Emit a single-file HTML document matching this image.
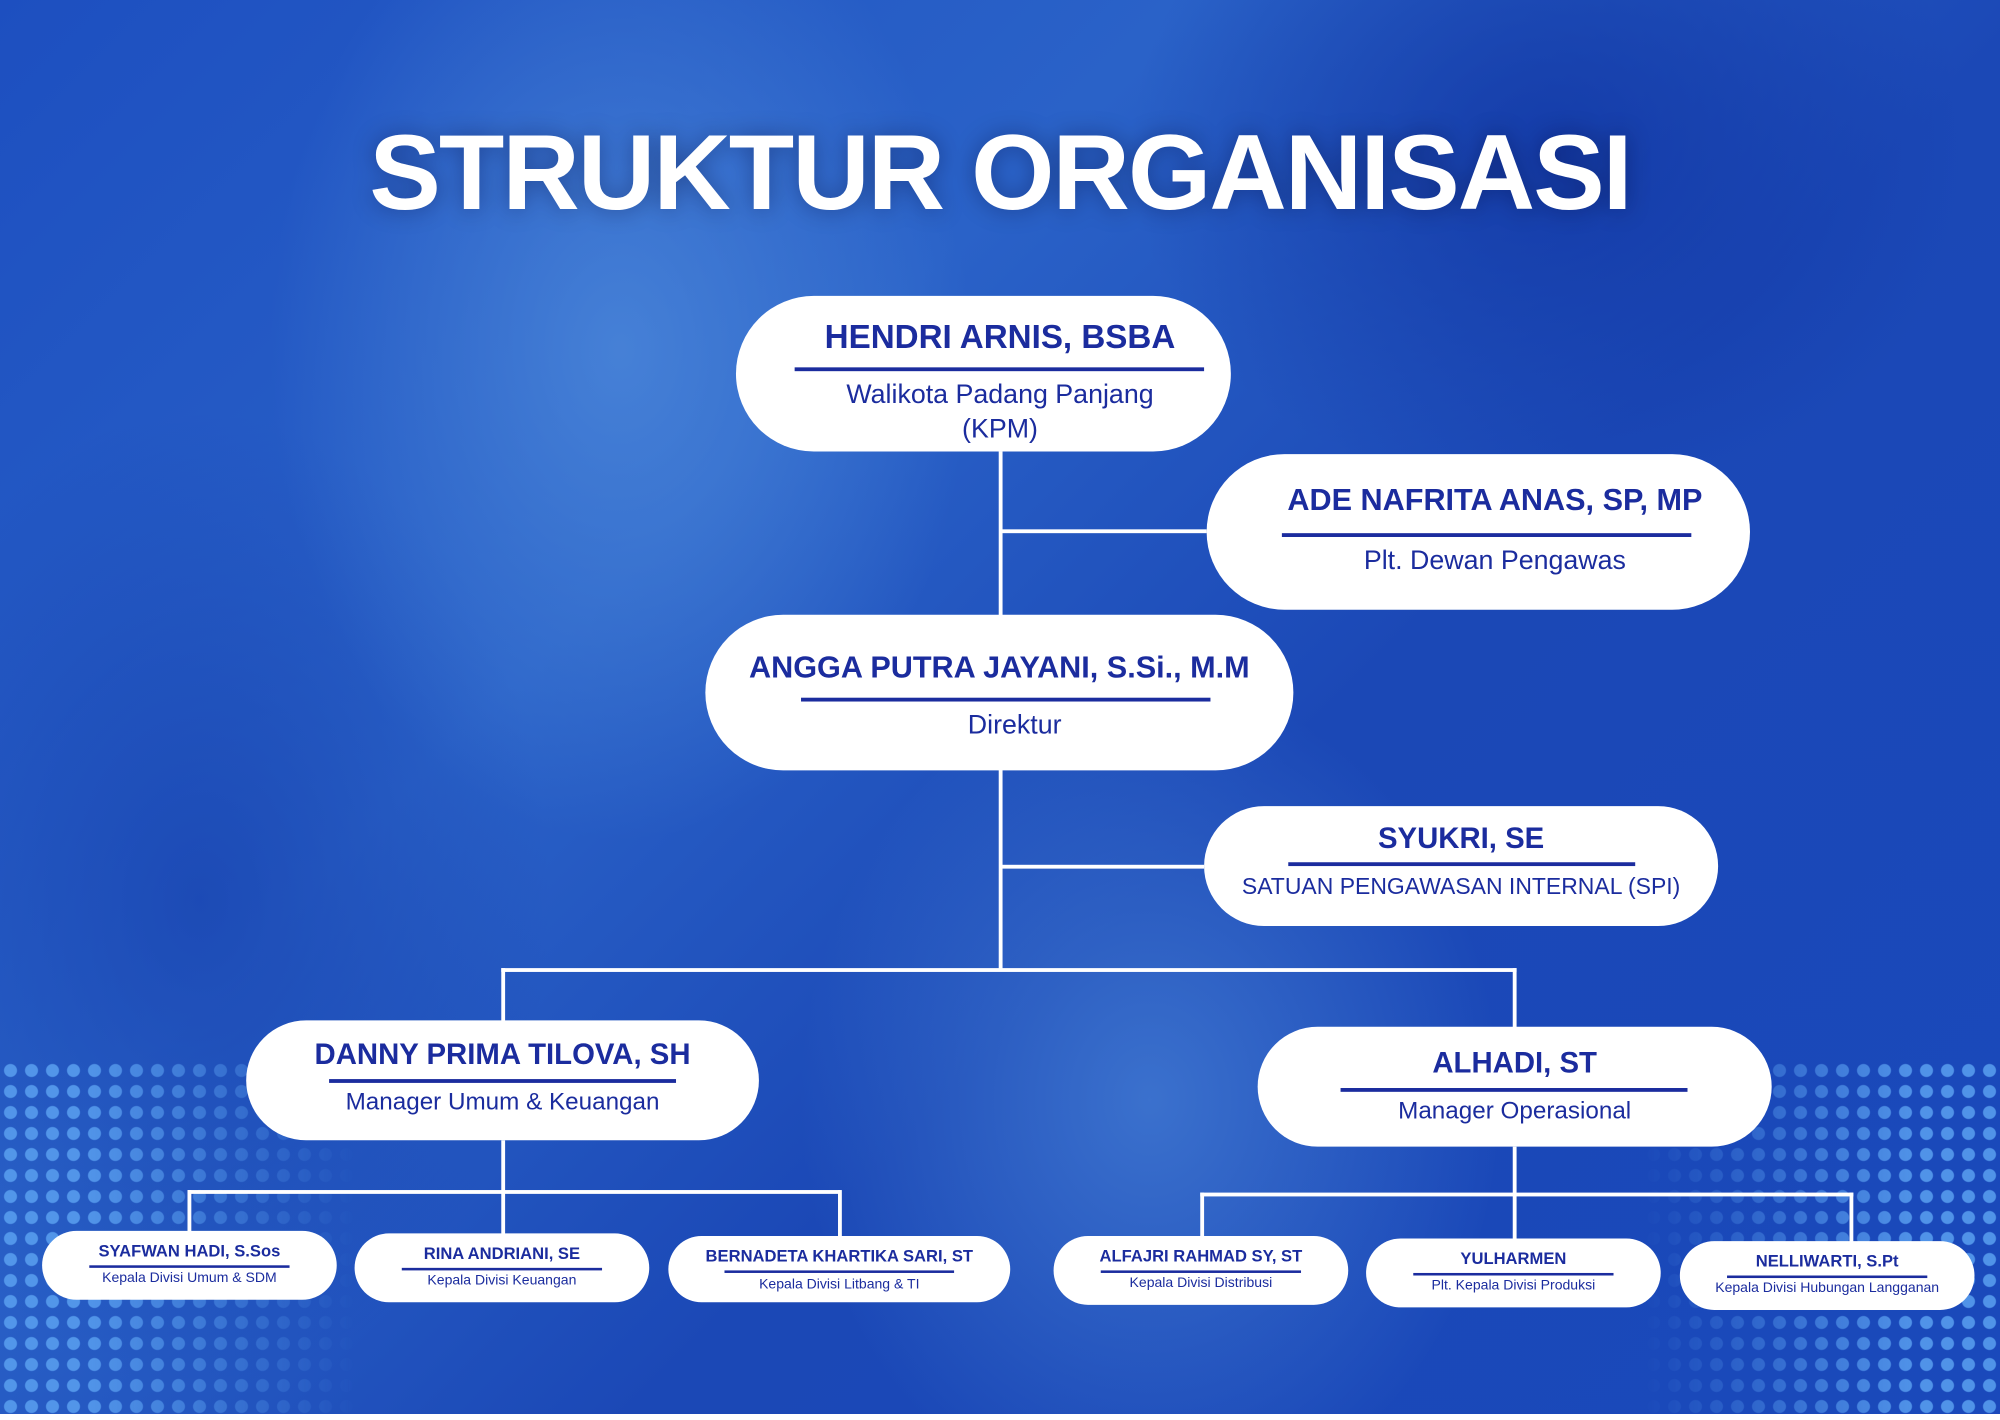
<!DOCTYPE html>
<html><head><meta charset="utf-8">
<style>
html,body{margin:0;padding:0;width:2000px;height:1414px;overflow:hidden;}
body{font-family:"Liberation Sans",sans-serif;}
#bg{position:absolute;left:0;top:0;width:2000px;height:1414px;
background:
radial-gradient(ellipse 500px 700px at 620px 350px, rgba(80,140,220,0.75), rgba(80,140,220,0) 70%),
radial-gradient(ellipse 500px 600px at 1150px 1100px, rgba(80,140,220,0.6), rgba(80,140,220,0) 70%),
radial-gradient(ellipse 600px 500px at 1550px 150px, rgba(15,50,160,0.7), rgba(15,50,160,0) 70%),
radial-gradient(ellipse 500px 700px at 200px 900px, rgba(20,60,170,0.6), rgba(20,60,170,0) 70%),
linear-gradient(135deg,#1d4fc0 0%,#2a62c8 35%,#1b48b6 60%,#1a49bb 100%);}
.dots{position:absolute;width:420px;height:360px;
background-image:radial-gradient(circle,rgba(90,160,240,0.85) 6px,transparent 7px);
background-size:21px 21px;}
#s{position:absolute;left:0;top:0;width:1568px;height:1109px;transform:scale(1.27551);transform-origin:0 0;}
.t{position:absolute;left:0;width:1568px;top:80px;text-align:center;color:#fff;font-weight:bold;font-size:84px;letter-spacing:-1.5px;line-height:110px;text-shadow:0 0 18px rgba(0,0,40,0.35);}
.b{position:absolute;background:#fff;border-radius:9999px;color:#1b2c9e;text-align:center;}
.b .n{position:absolute;left:0;right:0;font-weight:bold;white-space:nowrap;}
.b .l{position:absolute;height:3px;background:#1b2c9e;}
.b .u{position:absolute;left:0;right:0;white-space:nowrap;}
.ln{position:absolute;background:#fff;}
</style></head><body>
<div id="bg"></div>
<div class="dots" style="left:0;top:1060px;-webkit-mask-image:linear-gradient(90deg,#000 20%,transparent 85%);mask-image:linear-gradient(90deg,#000 20%,transparent 85%);"></div>
<div class="dots" style="right:0;top:1060px;-webkit-mask-image:linear-gradient(270deg,#000 20%,transparent 85%);mask-image:linear-gradient(270deg,#000 20%,transparent 85%);"></div>
<div id="s">
<div class="t">STRUKTUR ORGANISASI</div>

<div class="ln" style="left:783px;top:354px;width:3px;height:406px"></div>
<div class="ln" style="left:784px;top:415px;width:162px;height:3px"></div>
<div class="ln" style="left:784px;top:678px;width:160px;height:3px"></div>
<div class="ln" style="left:393px;top:759px;width:796px;height:3px"></div>
<div class="ln" style="left:393px;top:759px;width:3px;height:42px"></div>
<div class="ln" style="left:1186px;top:759px;width:3px;height:47px"></div>
<div class="ln" style="left:393px;top:894px;width:3px;height:74px"></div>
<div class="ln" style="left:147px;top:933px;width:512px;height:3px"></div>
<div class="ln" style="left:147px;top:933px;width:3px;height:33px"></div>
<div class="ln" style="left:657px;top:933px;width:3px;height:37px"></div>
<div class="ln" style="left:1186px;top:899px;width:3px;height:73px"></div>
<div class="ln" style="left:941px;top:935px;width:512px;height:3px"></div>
<div class="ln" style="left:941px;top:935px;width:3px;height:35px"></div>
<div class="ln" style="left:1450px;top:935px;width:3px;height:39px"></div>

<div class="b" style="left:577px;top:232px;width:388px;height:122px">
<div class="n" style="top:17px;font-size:26px;padding-left:26px;box-sizing:border-box">HENDRI ARNIS, BSBA</div>
<div class="l" style="left:46px;width:321px;top:56px"></div>
<div class="u" style="top:64px;font-size:21px;line-height:27px;padding-left:26px;box-sizing:border-box">Walikota Padang Panjang<br>(KPM)</div>
</div>
<div class="b" style="left:946px;top:356px;width:426px;height:122px">
<div class="n" style="top:23px;font-size:24px;padding-left:26px;box-sizing:border-box">ADE NAFRITA ANAS, SP, MP</div>
<div class="l" style="left:59px;width:321px;top:62px"></div>
<div class="u" style="top:72px;font-size:21px;padding-left:26px;box-sizing:border-box">Plt. Dewan Pengawas</div>
</div>
<div class="b" style="left:553px;top:482px;width:461px;height:122px">
<div class="n" style="top:28px;font-size:24px">ANGGA PUTRA JAYANI, S.Si., M.M</div>
<div class="l" style="left:75px;width:321px;top:65px"></div>
<div class="u" style="top:75px;font-size:21px;padding-left:24px;box-sizing:border-box">Direktur</div>
</div>
<div class="b" style="left:944px;top:632px;width:403px;height:94px">
<div class="n" style="top:12px;font-size:23px">SYUKRI, SE</div>
<div class="l" style="left:66px;width:272px;top:44px"></div>
<div class="u" style="top:53px;font-size:18px">SATUAN PENGAWASAN INTERNAL (SPI)</div>
</div>
<div class="b" style="left:193px;top:800px;width:402px;height:94px">
<div class="n" style="top:13px;font-size:23px">DANNY PRIMA TILOVA, SH</div>
<div class="l" style="left:65px;width:272px;top:46px"></div>
<div class="u" style="top:54px;font-size:19px">Manager Umum &amp; Keuangan</div>
</div>
<div class="b" style="left:986px;top:805px;width:403px;height:94px">
<div class="n" style="top:15px;font-size:23px">ALHADI, ST</div>
<div class="l" style="left:65px;width:272px;top:48px"></div>
<div class="u" style="top:56px;font-size:19px">Manager Operasional</div>
</div>

<div class="b" style="left:33px;top:965px;width:231px;height:54px">
<div class="n" style="top:8px;font-size:13px">SYAFWAN HADI, S.Sos</div>
<div class="l" style="left:37px;width:157px;top:27px;height:2px"></div>
<div class="u" style="top:31px;font-size:11px">Kepala Divisi Umum &amp; SDM</div>
</div>
<div class="b" style="left:278px;top:967px;width:231px;height:54px">
<div class="n" style="top:8px;font-size:13px">RINA ANDRIANI, SE</div>
<div class="l" style="left:37px;width:157px;top:27px;height:2px"></div>
<div class="u" style="top:31px;font-size:11px">Kepala Divisi Keuangan</div>
</div>
<div class="b" style="left:524px;top:969px;width:268px;height:52px">
<div class="n" style="top:8px;font-size:13px">BERNADETA KHARTIKA SARI, ST</div>
<div class="l" style="left:44px;width:180px;top:27px;height:2px"></div>
<div class="u" style="top:32px;font-size:11px">Kepala Divisi Litbang &amp; TI</div>
</div>
<div class="b" style="left:826px;top:969px;width:231px;height:54px">
<div class="n" style="top:8px;font-size:13px">ALFAJRI RAHMAD SY, ST</div>
<div class="l" style="left:37px;width:157px;top:27px;height:2px"></div>
<div class="u" style="top:31px;font-size:11px">Kepala Divisi Distribusi</div>
</div>
<div class="b" style="left:1071px;top:971px;width:231px;height:54px">
<div class="n" style="top:8px;font-size:13px">YULHARMEN</div>
<div class="l" style="left:37px;width:157px;top:27px;height:2px"></div>
<div class="u" style="top:31px;font-size:11px">Plt. Kepala Divisi Produksi</div>
</div>
<div class="b" style="left:1317px;top:973px;width:231px;height:54px">
<div class="n" style="top:8px;font-size:13px">NELLIWARTI, S.Pt</div>
<div class="l" style="left:37px;width:157px;top:27px;height:2px"></div>
<div class="u" style="top:31px;font-size:11px">Kepala Divisi Hubungan Langganan</div>
</div>
</div>
</body></html>
